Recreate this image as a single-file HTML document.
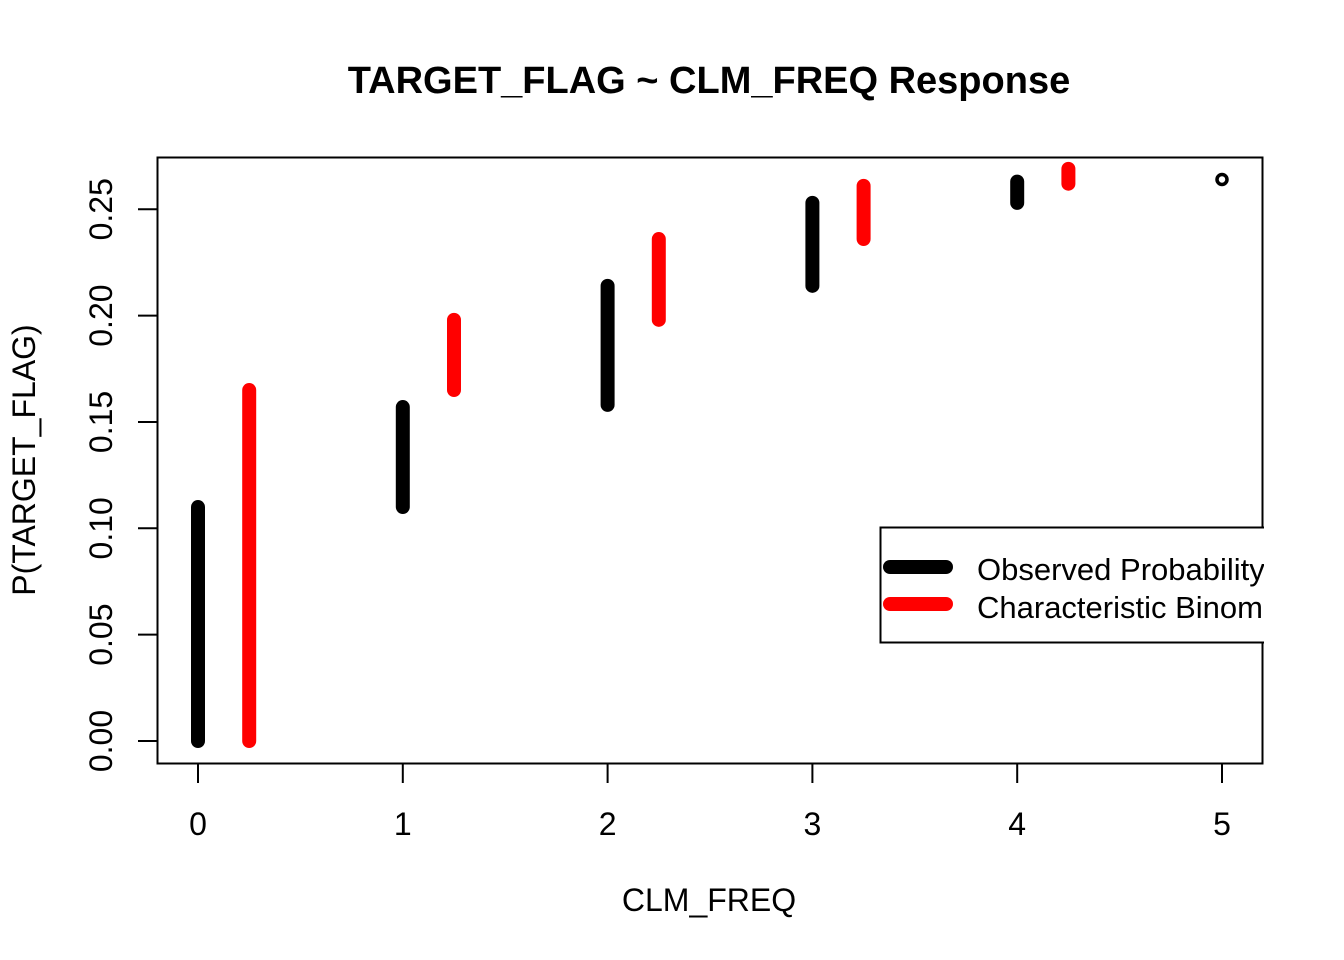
<!DOCTYPE html>
<html><head><meta charset="utf-8"><style>html,body{margin:0;padding:0;background:#fff}svg{display:block}text{font-family:"Liberation Sans",Arial,sans-serif}</style></head>
<body>
<svg id="chart" width="1344" height="960" viewBox="0 0 1344 960" xmlns="http://www.w3.org/2000/svg">
<rect width="1344" height="960" fill="#fff"/>
<defs><clipPath id="plotclip"><rect x="0" y="0" width="1264" height="960"/></clipPath></defs>
<text x="709" y="93" text-anchor="middle" font-size="38" font-weight="bold">TARGET_FLAG ~ CLM_FREQ Response</text>
<text x="709" y="911" text-anchor="middle" font-size="32">CLM_FREQ</text>
<text transform="translate(35,460) rotate(-90)" text-anchor="middle" font-size="32">P(TARGET_FLAG)</text>
<rect x="157.5" y="157.5" width="1105" height="606" fill="none" stroke="#000" stroke-width="2"/>
<g id="xaxis"></g>
<g id="yaxis"></g>
<g id="marks"></g>
<g clip-path="url(#plotclip)">
<rect x="880.5" y="527.5" width="400" height="115" fill="#fff" stroke="#000" stroke-width="2"/>
<line x1="890" y1="567" x2="946" y2="567" stroke="#000" stroke-width="14" stroke-linecap="round"/>
<line x1="890" y1="604" x2="946" y2="604" stroke="#f00" stroke-width="14" stroke-linecap="round"/>
<text x="977" y="580" font-size="31">Observed Probability</text>
<text x="977" y="618" font-size="31">Characteristic Binomial</text>
</g>
</svg>
<script>
const xTicks = [0,1,2,3,4,5];
const yTicks = [0,0.05,0.10,0.15,0.20,0.25];
const yTickLabels = ["0.00","0.05","0.10","0.15","0.20","0.25"];
const obsX = [0,1,2,3,4];
const obsLow = [0,0.110,0.158,0.214,0.253];
const obsHigh = [0.110,0.157,0.214,0.253,0.263];
const binX = [0.25,1.25,2.25,3.25,4.25];
const binLow = [0,0.165,0.198,0.236,0.262];
const binHigh = [0.165,0.198,0.236,0.261,0.269];
const pointX = [5];
const pointY = [0.264];

const NS = "http://www.w3.org/2000/svg";
function xs(v){ return 198 + v*204.8; }
function ys(v){ return 741 - v*2127; }
function mk(tag, attrs, parent){
  const e = document.createElementNS(NS, tag);
  for (const k in attrs) e.setAttribute(k, attrs[k]);
  parent.appendChild(e); return e;
}
const xg = document.getElementById('xaxis'), yg = document.getElementById('yaxis'), mg = document.getElementById('marks');
xTicks.forEach(t => {
  const l = mk('line', {x1:xs(t), x2:xs(t), y1:764, y2:783, stroke:'#000', 'stroke-width':2}, xg);
  
  
  const tx = mk('text', {x:xs(t), y:835, 'text-anchor':'middle', 'font-size':32}, xg);
  tx.textContent = t;
  
  
});
yTicks.forEach((t,i) => {
  const l = mk('line', {x1:138, x2:157, y1:ys(t), y2:ys(t), stroke:'#000', 'stroke-width':2}, yg);
  
  
  const tx = mk('text', {x:0, y:0, 'text-anchor':'middle', 'font-size':32, transform:'translate(112,'+ys(t)+') rotate(-90)'}, yg);
  tx.textContent = yTickLabels[i];
  
  
});
obsX.forEach((x,i) => {
  const l = mk('line', {x1:xs(x), x2:xs(x), y1:ys(obsLow[i]), y2:ys(obsHigh[i]), stroke:'#000', 'stroke-width':14, 'stroke-linecap':'round'}, mg);
  
  
});
binX.forEach((x,i) => {
  const l = mk('line', {x1:xs(x), x2:xs(x), y1:ys(binLow[i]), y2:ys(binHigh[i]), stroke:'#f00', 'stroke-width':14, 'stroke-linecap':'round'}, mg);
  
  
});
pointX.forEach((x,i) => {
  const c = mk('circle', {cx:xs(x), cy:ys(pointY[i]), r:5, fill:'none', stroke:'#000', 'stroke-width':3.5}, mg);
  
  
});
</script>
</body></html>
